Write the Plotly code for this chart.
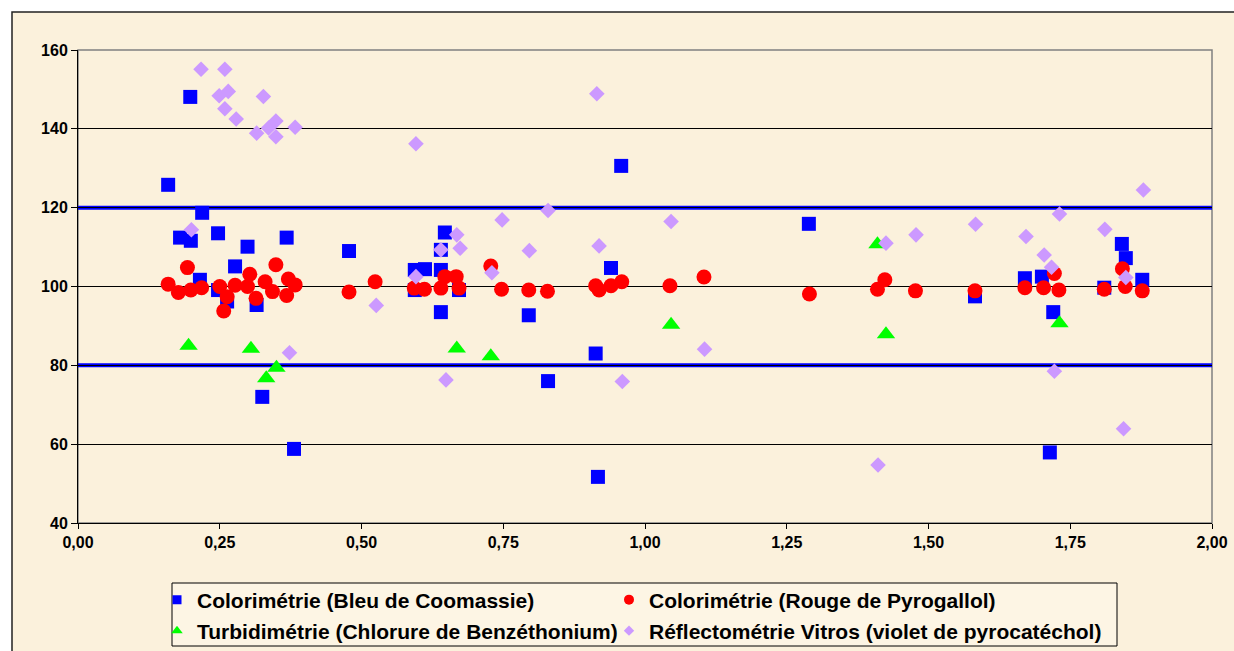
import plotly.graph_objects as go

# ---------------- data ----------------
coomassie_x = [0.159, 0.180, 0.198, 0.199, 0.215, 0.219, 0.247, 0.247, 0.263, 0.277,
               0.299, 0.315, 0.325, 0.368, 0.381, 0.478, 0.594, 0.594, 0.612, 0.640,
               0.640, 0.640, 0.647, 0.672, 0.795, 0.829, 0.913, 0.917, 0.940, 0.958,
               1.289, 1.582, 1.670, 1.700, 1.714, 1.720, 1.810, 1.841, 1.848, 1.877]
coomassie_y = [125.8, 112.4, 148.1, 111.6, 101.7, 118.7, 113.5, 99.1, 96.2, 105.1,
               110.1, 95.3, 72.0, 112.4, 58.8, 109.0, 104.2, 99.1, 104.4, 104.2,
               109.3, 93.5, 113.7, 99.1, 92.7, 76.0, 83.0, 51.7, 104.7, 130.6,
               115.9, 97.5, 102.1, 102.5, 57.9, 93.5, 99.7, 110.8, 107.2, 101.7]

pyrogallol_x = [0.159, 0.177, 0.193, 0.199, 0.218, 0.250, 0.257, 0.263, 0.277, 0.299,
                0.303, 0.314, 0.330, 0.343, 0.349, 0.368, 0.371, 0.383, 0.478, 0.524,
                0.593, 0.611, 0.640, 0.647, 0.667, 0.672, 0.728, 0.747, 0.795, 0.828,
                0.913, 0.919, 0.940, 0.959, 1.044, 1.104, 1.290, 1.410, 1.423, 1.477,
                1.582, 1.670, 1.703, 1.722, 1.730, 1.810, 1.842, 1.847, 1.877]
pyrogallol_y = [100.6, 98.5, 104.8, 99.1, 99.7, 100.0, 93.8, 97.4, 100.3, 100.0,
                103.1, 97.0, 101.2, 98.7, 105.5, 97.7, 101.9, 100.4, 98.6, 101.2,
                99.6, 99.3, 99.6, 102.5, 102.5, 99.6, 105.2, 99.3, 99.1, 98.8,
                100.2, 99.1, 100.2, 101.2, 100.2, 102.4, 98.1, 99.3, 101.7, 98.9,
                98.9, 99.7, 99.7, 103.3, 99.1, 99.3, 104.5, 100.0, 98.9]

turbidi_x = [0.195, 0.305, 0.332, 0.350, 0.668, 0.728, 1.046, 1.410, 1.425, 1.731]
turbidi_y = [85.0, 84.2, 76.7, 79.4, 84.3, 82.3, 90.3, 110.7, 87.9, 90.7]

vitros_x = [0.200, 0.217, 0.249, 0.259, 0.259, 0.265, 0.279, 0.315, 0.327, 0.336,
            0.349, 0.349, 0.373, 0.383, 0.526, 0.596, 0.596, 0.640, 0.649, 0.668,
            0.674, 0.730, 0.748, 0.796, 0.829, 0.915, 0.919, 0.960, 1.046, 1.105,
            1.411, 1.425, 1.478, 1.583, 1.672, 1.704, 1.717, 1.722, 1.731, 1.811,
            1.844, 1.848, 1.879]
vitros_y = [114.4, 155.1, 148.4, 155.1, 145.1, 149.5, 142.5, 138.9, 148.2, 140.2,
            142.0, 138.0, 83.2, 140.4, 95.2, 136.2, 102.5, 109.3, 76.3, 113.1,
            109.7, 103.5, 116.9, 109.1, 119.3, 148.9, 110.3, 75.9, 116.5, 84.1,
            54.7, 111.0, 113.1, 115.8, 112.7, 108.0, 104.9, 78.5, 118.4, 114.5,
            63.9, 102.3, 124.5]

limits = [80, 120]

series_names = ["Colorimétrie (Bleu de Coomassie)",
                "Colorimétrie (Rouge de Pyrogallol)",
                "Turbidimétrie (Chlorure de Benzéthonium)",
                "Réflectométrie Vitros (violet de pyrocatéchol)"]

# ---------------- figure ----------------
W, H = 1234, 651
ML, MR, MT, MB = 78, 22, 50, 128
PW, PH = W - ML - MR, H - MT - MB


def px_x(p):
    return (p - ML) / PW


def px_y(p):
    return (H - MB - p) / PH


BEIGE = "#FBF1DC"
FONT = "Liberation Sans"

fig = go.Figure()

styles = [
    dict(symbol="square", color="#0000FF", size=14, lsize=9),
    dict(symbol="circle", color="#FF0000", size=15, lsize=10),
    dict(symbol="triangle-up", color="#00FF00", size=16, lsize=10),
    dict(symbol="diamond", color="#CC99FF", size=12, lsize=8),
]
xs = [coomassie_x, pyrogallol_x, turbidi_x, vitros_x]
ys = [coomassie_y, pyrogallol_y, turbidi_y, vitros_y]

for name, st, x, y in zip(series_names, styles, xs, ys):
    fig.add_trace(go.Scatter(
        x=x, y=y, mode="markers", name=name, showlegend=False,
        marker=dict(symbol=st["symbol"], color=st["color"], size=st["size"],
                    line=dict(width=0)),
        hoverinfo="x+y+name"))

# legend entries (small symbols like the original)
for i, (name, st) in enumerate(zip(series_names, styles)):
    fig.add_trace(go.Scatter(
        x=[None], y=[None], mode="markers", name=name,
        legend="legend" if i < 2 else "legend2",
        legendwidth=407 if i % 2 == 0 else 480,
        marker=dict(symbol=st["symbol"], color=st["color"], size=st["lsize"],
                    line=dict(width=0))))

shapes = [
    # page background with black frame
    dict(type="rect", xref="paper", yref="paper", layer="below",
         x0=px_x(12), x1=px_x(1245), y0=px_y(665), y1=px_y(12),
         fillcolor=BEIGE, line=dict(color="#222222", width=1.5)),
    # plot area border (grey)
    dict(type="rect", xref="paper", yref="paper", layer="below",
         x0=0, x1=1, y0=0, y1=1, fillcolor="rgba(0,0,0,0)",
         line=dict(color="#808080", width=1.5)),
    # legend box
    dict(type="rect", xref="paper", yref="paper", layer="below",
         x0=px_x(172), x1=px_x(1117), y0=px_y(646), y1=px_y(583),
         fillcolor="#FDF5E4", line=dict(color="#000000", width=1)),
]
for v in limits:
    shapes.append(dict(type="line", xref="paper", yref="y", layer="between",
                       x0=0, x1=1, y0=v, y1=v,
                       line=dict(color="#0000FF", width=4)))

legend_common = dict(orientation="h", xanchor="left", yanchor="middle",
                     bgcolor="rgba(0,0,0,0)", borderwidth=0,
                     font=dict(family=FONT, size=21, color="#000000", weight=700))

fig.update_layout(
    width=W, height=H, autosize=False,
    margin=dict(l=ML, r=MR, t=MT, b=MB, pad=0, autoexpand=False),
    paper_bgcolor="#FFFFFF",
    plot_bgcolor="rgba(0,0,0,0)",
    separators=", ",
    shapes=shapes,
    legend=dict(x=px_x(157), y=px_y(600), **legend_common),
    legend2=dict(x=px_x(157), y=px_y(631), **legend_common),
    xaxis=dict(range=[0, 2], dtick=0.25, tick0=0, tickformat=".2f",
               showgrid=False, zeroline=False,
               showline=True, linecolor="#000000", linewidth=1,
               ticks="outside", ticklen=5, tickcolor="#000000",
               tickfont=dict(family=FONT, size=16, color="#000000", weight=700)),
    yaxis=dict(range=[40, 160], dtick=20, tick0=40,
               showgrid=True, gridcolor="#000000", gridwidth=1, zeroline=False,
               showline=True, linecolor="#000000", linewidth=1,
               ticks="outside", ticklen=6, tickcolor="#000000",
               tickfont=dict(family=FONT, size=16, color="#000000", weight=700)),
)

fig.write_html(
    "out.html",
    config={"displayModeBar": False},
    post_script="document.body.style.margin='0';document.body.style.overflow='hidden';",
)
